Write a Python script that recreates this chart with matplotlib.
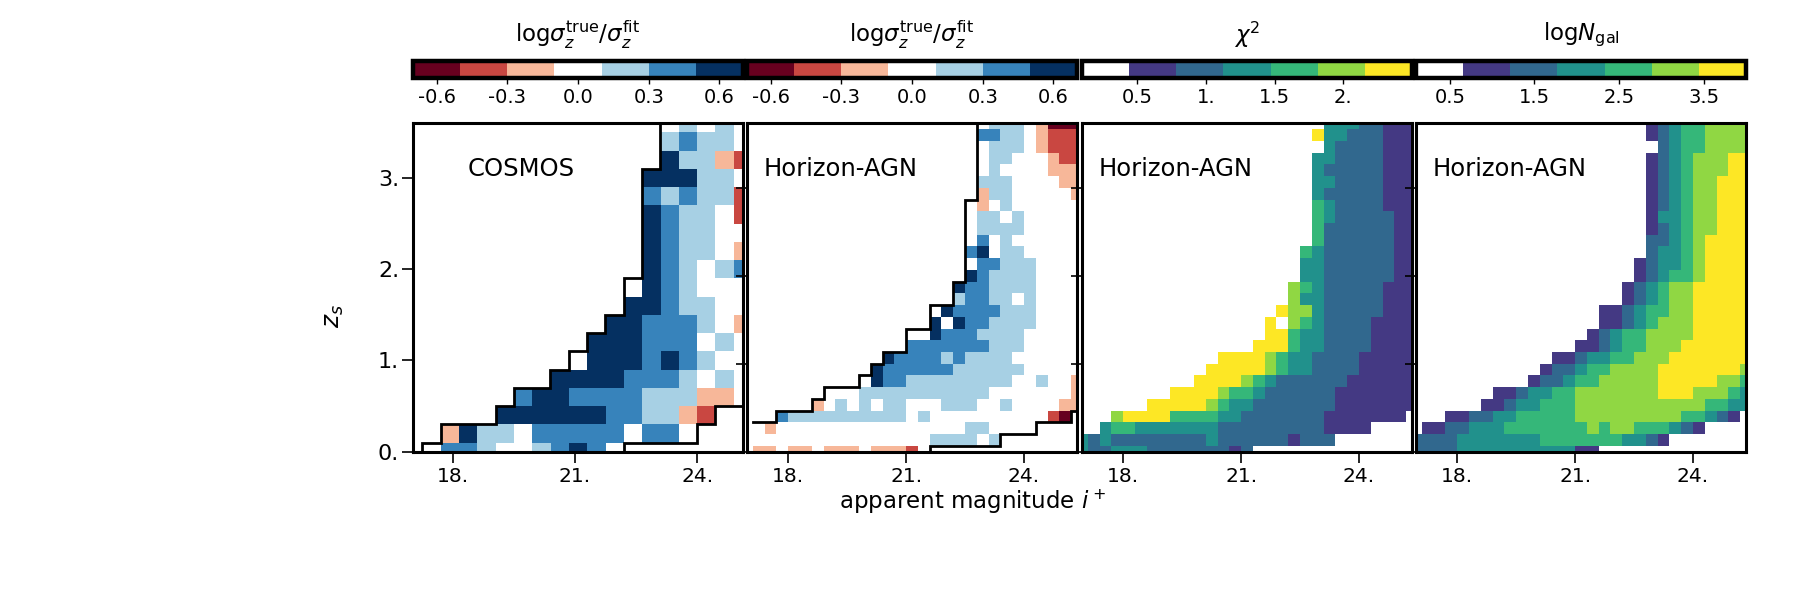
import numpy as np
import matplotlib
matplotlib.use("Agg")
import matplotlib.pyplot as plt
from matplotlib.colors import ListedColormap, BoundaryNorm
from matplotlib.cm import ScalarMappable

# ---------------- data ----------------
# colour classes (one character per cell, top row first)
sigma_levels = [-0.7, -0.5, -0.3, -0.1, 0.1, 0.3, 0.5, 0.7]
sigma_codes = {'D': -0.6, 'R': -0.4, 'S': -0.2, 'W': 0.0, 'L': 0.2, 'B': 0.4, 'N': 0.6}
chi2_levels = [0.1, 0.443, 0.786, 1.129, 1.471, 1.814, 2.157, 2.5]
logn_levels = [0.1, 0.657, 1.214, 1.771, 2.329, 2.886, 3.443, 4.0]

# COSMOS grid: 19 x 19 cells (magnitude centres 17.025..25.125, z centres 0..3.6)
cosmos_mag = [17.025 + 0.45 * i for i in range(19)]
cosmos_z = [0.2 * i for i in range(19)]
cosmos_sigma = [
    '.' * 14 + 'WLWL.',
    '.' * 14 + 'LBLLW',
    '.' * 14 + 'NLLSR',
    '.' * 13 + 'NNNLLW',
    '.' * 13 + 'BLBLLR',
    '.' * 13 + 'NBLLWR',
    '.' * 13 + 'NBLLWW',
    '.' * 13 + 'NBLLWS',
    '.' * 13 + 'NBLWLB',
    '.' * 12 + 'WNBLWWW',
    '.' * 12 + 'NNBLLWW',
    '.' * 11 + 'NNBBBLWS',
    '.' * 10 + 'NNNBBBWLW',
    '.' * 9 + 'WNNNBNBLWW',
    '.' * 8 + 'NNNNBBBLWLW',
    '.' * 6 + 'BNNBBBBLLLSSW',
    '.' * 5 + 'NNNNNNBBLLSR..',
    '..SNLLWBBBBBWBBW...',
    '.WBBLWWLBNBW.......',
]
# contour of the COSMOS coverage (column-edge / row-edge indices)
cosmos_upper_cols = [1, 2, 5, 6, 8, 9, 10, 11, 12, 13, 14]
cosmos_upper_rows = [0, 1, 2, 3, 4, 5, 6, 7, 8, 10, 16, 19]
cosmos_lower_cols = [12, 16, 17, 20]
cosmos_lower_rows = [0, 1, 2, 3, 3]

# Horizon-AGN grid: 29 x 29 cells (magnitude centres 16.95..25.35, z centres 0..3.733)
agn_mag = [16.95 + 0.3 * i for i in range(29)]
agn_z = [0.4 / 3 * i for i in range(29)]
agn_sigma = [
    '.' * 21 + 'LLL.SDDD',
    '.' * 20 + 'BBLL.SRRR',
    '.' * 20 + '.LLL.SRRR',
    '.' * 20 + '.LL...SRR',
    '.' * 20 + '.L....SSS',
    '.' * 20 + 'LLL....SS',
    '.' * 20 + 'SLL.....S',
    '.' * 19 + '.S.L......',
    '.' * 19 + '.LL.L.....',
    '.' * 19 + '.LLLL.....',
    '.' * 19 + '.B.L......',
    '.' * 19 + 'BN.LL.....',
    '.' * 19 + '.BBLLL....',
    '.' * 19 + 'NBLLLL....',
    '.' * 18 + 'NBBLLLL....',
    '.' * 18 + 'LBBLL.L....',
    '.' * 16 + '.NBBBBLLL....',
    '.' * 16 + 'N.NBBLLLL....',
    '.' * 14 + '..NBBBLLLL.....',
    '.' * 14 + 'BBBBBBBLLL.....',
    '.' * 12 + 'NBBBBLBLLLL......',
    '.' * 11 + 'NBBBBBBLLLLLL.....',
    '.' * 10 + '.NBBLLLLLLLLL..L..S',
    '.' * 10 + 'LLLLLLLLLLL.......S',
    '.' * 6 + 'S.L.L.LL...LLL..L....SS',
    '...BLLLLLLLLLL.L..........RD.',
    '..S' + '.' * 16 + 'LL' + '.' * 8,
    '.' * 16 + 'LLLL.L' + '.' * 7,
    '.SS.SS.SSS.SSSR.' + '.' * 13,
]
agn_upper_cols = [1, 3, 6, 7, 10, 11, 12, 14, 16, 18, 19, 20]
agn_upper_rows = [3, 3, 4, 5, 6, 7, 8, 9, 11, 13, 15, 22, 29]
agn_lower_cols = [16, 22, 25, 28, 30]
agn_lower_rows = [0, 1, 2, 3, 4, 4]

agn_chi2 = [
    '.' * 21 + '33322111',
    '.' * 20 + '633222111',
    '.' * 21 + '32222111',
    '.' * 20 + '332222111',
    '.' * 20 + '322222111',
    '.' * 20 + '332222111',
    '.' * 20 + '322222111',
    '.' * 20 + '432222111',
    '.' * 20 + '432222211',
    '.' * 20 + '422222211',
    '.' * 20 + '422222211',
    '.' * 19 + '4322222211',
    '.' * 19 + '3322222211',
    '.' * 19 + '3322222211',
    '.' * 18 + '54322222111',
    '.' * 18 + '53322222111',
    '.' * 17 + '655322222111',
    '.' * 16 + '6.54322221111',
    '.' * 16 + '6643322221111',
    '.' * 15 + '66643322221111',
    '.' * 12 + '66665433222211111',
    '.' * 11 + '666665433222211111',
    '.' * 10 + '6666543222222111111',
    '.' * 8 + '666654432222221111111',
    '.' * 6 + '66666543322222221111111',
    '...5666644443322222221111111.',
    '..344' + '3333333' + '222222222' + '1111' + '....',
    '323' + '22222222' + '3' + '222222' + '1' + '222' + '.......',
    '322333' + '2222222' + '12' + '.' * 14,
]

agn_logn = [
    '.' * 20 + '123445555',
    '.' * 20 + '123445555',
    '.' * 21 + '23445555',
    '.' * 20 + '123455566',
    '.' * 20 + '123455566',
    '.' * 20 + '123455666',
    '.' * 20 + '123455666',
    '.' * 20 + '123455666',
    '.' * 20 + '133455666',
    '.' * 20 + '123455666',
    '.' * 20 + '223456666',
    '.' * 20 + '233456666',
    '.' * 19 + '1233456666',
    '.' * 19 + '1234456666',
    '.' * 18 + '12345566666',
    '.' * 18 + '12345566666',
    '.' * 16 + '1123445566666',
    '.' * 16 + '1123455566666',
    '.' * 15 + '12344555566666',
    '.' * 14 + '112344555666666',
    '.' * 12 + '11233445556666666',
    '.' * 11 + '122344555566666665',
    '.' * 10 + '1223445555566666554',
    '.' * 7 + '1123344555555566655543',
    '.' * 6 + '11233444' + '55555555555' + '4433',
    '...11223344444555555555443' + '21.',
    '.1122333' + '4444444' + '5455444' + '321....',
    '2222' + '3333333' + '4444444' + '33' + '21' + '.......',
    '2222' + '3333333333' + '11' + '.' * 13,
]

panel_labels = ['COSMOS', 'Horizon-AGN', 'Horizon-AGN', 'Horizon-AGN']
cbar_titles = [r'$\mathrm{log}\sigma_z^{\rm true}/\sigma_z^{\rm fit}$',
               r'$\mathrm{log}\sigma_z^{\rm true}/\sigma_z^{\rm fit}$',
               r'$\chi^2$', r'$\mathrm{log}N_{\rm gal}$']
sigma_ticks = [-0.6, -0.3, 0.0, 0.3, 0.6]
sigma_ticklabels = ['-0.6', '-0.3', '0.0', '0.3', '0.6']
chi2_ticks = [0.5, 1.0, 1.5, 2.0]
chi2_ticklabels = ['0.5', '1.', '1.5', '2.']
logn_ticks = [0.5, 1.5, 2.5, 3.5]
logn_ticklabels = ['0.5', '1.5', '2.5', '3.5']
mag_ticks = [18, 21, 24]
mag_ticklabels = ['18.', '21.', '24.']
z_ticks = [0, 1, 2, 3]
z_ticklabels = ['0.', '1.', '2.', '3.']

# ---------------- helpers ----------------
def decode(rows, table, ncol):
    arr = np.full((len(rows), ncol), np.nan)
    for i, row in enumerate(rows[::-1]):
        row = row.ljust(ncol, '.')[:ncol]
        for j, ch in enumerate(row):
            if ch in table:
                arr[i, j] = table[ch]
    return np.ma.masked_invalid(arr)

def level_table(levels):
    return {str(i): 0.5 * (levels[i] + levels[i + 1]) for i in range(len(levels) - 1)}

def edges(centres):
    c = np.asarray(centres, float)
    d = c[1] - c[0]
    return np.concatenate([c - d / 2, [c[-1] + d / 2]])

def stair(cols, rows, xc, yc):
    dx = xc[1] - xc[0]
    dy = yc[1] - yc[0]
    xs, ys = [], []
    for i, c in enumerate(cols):
        x = xc[0] + (c - 0.5) * dx
        xs += [x, x]
        ys += [yc[0] + (rows[i] - 0.5) * dy, yc[0] + (rows[i + 1] - 0.5) * dy]
    return xs, ys

# colormaps
rdbu_cols = plt.get_cmap('RdBu')(np.linspace(0, 1, 7))
rdbu_cols[3] = [1, 1, 1, 1]
cmap_sigma = ListedColormap(rdbu_cols)
vir_cols = plt.get_cmap('viridis')(np.linspace(0, 1, 7))
vir_cols[0] = [1, 1, 1, 1]
cmap_vir = ListedColormap(vir_cols)

norm_sigma = BoundaryNorm(sigma_levels, 7)
norm_chi2 = BoundaryNorm(chi2_levels, 7)
norm_logn = BoundaryNorm(logn_levels, 7)

grids = [
    (cosmos_mag, cosmos_z, decode(cosmos_sigma, sigma_codes, 19), cmap_sigma, norm_sigma),
    (agn_mag, agn_z, decode(agn_sigma, sigma_codes, 29), cmap_sigma, norm_sigma),
    (agn_mag, agn_z, decode(agn_chi2, level_table(chi2_levels), 29), cmap_vir, norm_chi2),
    (agn_mag, agn_z, decode(agn_logn, level_table(logn_levels), 29), cmap_vir, norm_logn),
]

# ---------------- figure ----------------
W, H = 1800, 600
fig = plt.figure(figsize=(18, 6), dpi=100)
lefts = [413, 747, 1082, 1416]
pw = 330
pb, ph = 600 - 451.7, 328.4
cb_b, cb_h = 600 - 78, 17

tick_sets = [(sigma_ticks, sigma_ticklabels), (sigma_ticks, sigma_ticklabels),
             (chi2_ticks, chi2_ticklabels), (logn_ticks, logn_ticklabels)]
label_x = [0.167, 0.05, 0.05, 0.05]

for p in range(4):
    xc, yc, arr, cmap, norm = grids[p]
    ax = fig.add_axes([lefts[p] / W, pb / H, pw / W, ph / H])
    ax.pcolormesh(edges(xc), edges(yc), arr, cmap=cmap, norm=norm, shading='flat')
    ax.set_xlim(xc[0], xc[-1])
    ax.set_ylim(yc[0], yc[-1])
    if p < 2:
        if p == 0:
            lines = [(cosmos_upper_cols, cosmos_upper_rows), (cosmos_lower_cols, cosmos_lower_rows)]
        else:
            lines = [(agn_upper_cols, agn_upper_rows), (agn_lower_cols, agn_lower_rows)]
        for cols, rows in lines:
            xs, ys = stair(cols, rows, xc, yc)
            ax.plot(xs, ys, color='black', lw=2.0, solid_joinstyle='miter')
    ax.set_xticks(mag_ticks)
    ax.set_xticklabels(mag_ticklabels)
    ax.set_yticks(z_ticks)
    if p == 0:
        ax.set_yticklabels(z_ticklabels)
    else:
        ax.set_yticklabels([])
    ax.tick_params(axis='both', direction='out', length=8, width=1.2)
    ax.tick_params(axis='x', labelsize=14.5, pad=3)
    ax.tick_params(axis='y', labelsize=16, pad=2)
    for s in ax.spines.values():
        s.set_linewidth(2.2)
    ax.text(label_x[p], 0.861, panel_labels[p], transform=ax.transAxes,
            ha='left', va='center', fontsize=17.5)

    # colourbar
    cax = fig.add_axes([lefts[p] / W, cb_b / H, pw / W, cb_h / H])
    sm = ScalarMappable(norm=norm, cmap=cmap)
    cb = fig.colorbar(sm, cax=cax, orientation='horizontal')
    cb.outline.set_linewidth(3.2)
    ticks, tlabels = tick_sets[p]
    cb.set_ticks(ticks)
    cb.set_ticklabels(tlabels)
    cax.tick_params(axis='x', direction='out', length=4, width=1, labelsize=14, pad=3)
    cax.minorticks_off()
    fig.text((lefts[p] + pw / 2) / W, 1 - 35 / H, cbar_titles[p],
             ha='center', va='center', fontsize=16.5)

fig.text(973 / W, 1 - 502 / H, 'apparent magnitude $i^+$', ha='center', va='center', fontsize=16.5)
fig.text(334 / W, 1 - 316 / H, '$z_s$', rotation=90, ha='center', va='center', fontsize=18)

fig.savefig('out.png', dpi=100)
